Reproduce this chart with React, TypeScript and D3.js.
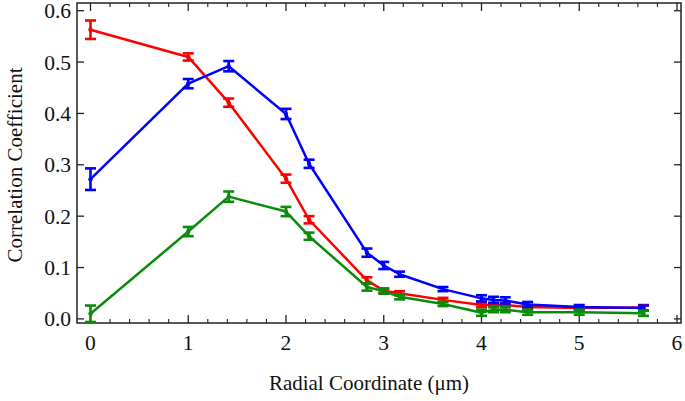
import React from "react";
import * as d3 from "d3";

const radii = [0, 1, 1.414, 2, 2.236, 2.828, 3, 3.162, 3.606, 4, 4.123, 4.243, 4.472, 5, 5.657];
const redVals = [0.563, 0.510, 0.421, 0.273, 0.193, 0.075, 0.055, 0.050, 0.037, 0.027, 0.027, 0.027, 0.023, 0.021, 0.022];
const redErr = [0.018, 0.007, 0.008, 0.008, 0.007, 0.006, 0.004, 0.004, 0.004, 0.004, 0.004, 0.004, 0.004, 0.004, 0.005];
const blueVals = [0.272, 0.458, 0.492, 0.399, 0.302, 0.129, 0.104, 0.087, 0.058, 0.040, 0.037, 0.036, 0.028, 0.023, 0.021];
const blueErr = [0.021, 0.009, 0.010, 0.010, 0.008, 0.008, 0.007, 0.005, 0.004, 0.006, 0.006, 0.006, 0.005, 0.004, 0.005];
const greenVals = [0.010, 0.170, 0.238, 0.209, 0.161, 0.062, 0.054, 0.043, 0.029, 0.012, 0.018, 0.018, 0.013, 0.013, 0.011];
const greenErr = [0.016, 0.009, 0.010, 0.009, 0.007, 0.007, 0.005, 0.005, 0.004, 0.006, 0.005, 0.005, 0.005, 0.005, 0.005];

const xTickLabels = ["0", "1", "2", "3", "4", "5", "6"];
const yTickLabels = ["0.0", "0.1", "0.2", "0.3", "0.4", "0.5", "0.6"];
const xTitle = "Radial Coordinate (\u03bcm)";
const yTitle = "Correlation Coefficient";

const W = 685, H = 401;
const L = 77, R = 681, T = 3, B = 323;
const FONT = "'Liberation Serif', 'Times New Roman', serif";

const series = [
  { name: "red", color: "#ff0000", vals: redVals, err: redErr },
  { name: "blue", color: "#0000ff", vals: blueVals, err: blueErr },
  { name: "green", color: "#0a8c0a", vals: greenVals, err: greenErr },
];

export default function App() {
  const x = d3.scaleLinear().domain([-0.138, 6.041]).range([L, R]);
  const y = d3.scaleLinear().domain([-0.008, 0.615]).range([B, T]);
  const line = d3.line<number>().x((_, i) => x(radii[i])).y((v) => y(v));

  const xMajor = xTickLabels.map(Number);
  const xMinor = d3.range(0, 31).map((i) => i * 0.2).filter((v) => Math.abs(v - Math.round(v)) > 1e-6);
  const yMajor = yTickLabels.map(Number);
  const axisColor = "#222";

  return (
    <svg width={W} height={H} style={{ position: "absolute", left: 0, top: 0, background: "#fff" }}>
      <rect x={L} y={T} width={R - L} height={B - T} fill="none" stroke={axisColor} strokeWidth={1.5} />
      {xMajor.map((v) => (
        <g key={"xm" + v}>
          <line x1={x(v)} x2={x(v)} y1={B} y2={B - 8} stroke={axisColor} strokeWidth={1.3} />
          <line x1={x(v)} x2={x(v)} y1={T} y2={T + 8} stroke={axisColor} strokeWidth={1.3} />
        </g>
      ))}
      {xMinor.map((v) => (
        <g key={"xn" + v}>
          <line x1={x(v)} x2={x(v)} y1={B} y2={B - 4} stroke={axisColor} strokeWidth={1.1} />
          <line x1={x(v)} x2={x(v)} y1={T} y2={T + 4} stroke={axisColor} strokeWidth={1.1} />
        </g>
      ))}
      {yMajor.map((v) => (
        <g key={"ym" + v}>
          <line x1={L} x2={L + 7} y1={y(v)} y2={y(v)} stroke={axisColor} strokeWidth={1.3} />
          <line x1={R} x2={R - 7} y1={y(v)} y2={y(v)} stroke={axisColor} strokeWidth={1.3} />
        </g>
      ))}
      {xTickLabels.map((t, i) => (
        <text key={"xl" + t} x={x(xMajor[i])} y={350} textAnchor="middle" fontFamily={FONT} fontSize={21.5} fill="#111">
          {t}
        </text>
      ))}
      {yTickLabels.map((t, i) => (
        <text key={"yl" + t} x={71} y={y(yMajor[i])} dy="0.35em" textAnchor="end" fontFamily={FONT} fontSize={21.5} fill="#111">
          {t}
        </text>
      ))}
      <text x={369} y={390} textAnchor="middle" fontFamily={FONT} fontSize={21} fill="#111">
        {xTitle}
      </text>
      <text transform={`translate(22,165) rotate(-90)`} textAnchor="middle" fontFamily={FONT} fontSize={21} fill="#111">
        {yTitle}
      </text>
      {series.map((s) => (
        <g key={s.name}>
          <path d={line(s.vals) || ""} fill="none" stroke={s.color} strokeWidth={2.5} strokeLinejoin="round" />
          {s.vals.map((v, i) => {
            const cx = x(radii[i]);
            const y1 = y(v - s.err[i]);
            const y2 = y(v + s.err[i]);
            return (
              <g key={i} stroke={s.color} strokeWidth={2.6}>
                <line x1={cx} x2={cx} y1={y1} y2={y2} />
                <line x1={cx - 5.5} x2={cx + 5.5} y1={y1} y2={y1} />
                <line x1={cx - 5.5} x2={cx + 5.5} y1={y2} y2={y2} />
                <circle cx={cx} cy={y(v)} r={2.2} fill={s.color} stroke="none" />
              </g>
            );
          })}
        </g>
      ))}
    </svg>
  );
}
